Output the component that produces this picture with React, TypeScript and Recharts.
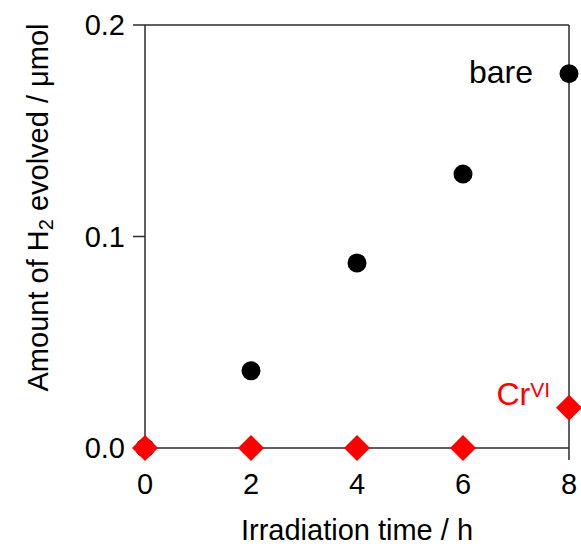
import { ScatterChart, Scatter, XAxis, YAxis, ReferenceLine, ReferenceDot } from "recharts";

const timeHours = [0, 2, 4, 6, 8];
const bareAmount = [0, 0.0365, 0.0875, 0.1295, 0.177];
const crAmount = [0, 0, 0, 0, 0.019];
const xTicks = [0, 2, 4, 6, 8];
const yTicks = [0, 0.1, 0.2];

const barePoints = timeHours.map((t, i) => ({ time: t, amount: bareAmount[i] }));
const crPoints = timeHours.map((t, i) => ({ time: t, amount: crAmount[i] }));

const FONT = "'Liberation Sans', Arial, Helvetica, sans-serif";
const AXIS = "#2b2b2b";

const Dot = (props: any) => {
  const { cx, cy } = props;
  if (cx == null || cy == null) return null;
  return <circle cx={cx} cy={cy} r={9.5} fill="#000" />;
};

const Diamond = (props: any) => {
  const { cx, cy } = props;
  if (cx == null || cy == null) return null;
  const s = 13;
  return (
    <polygon
      points={`${cx},${cy - s} ${cx + s},${cy} ${cx},${cy + s} ${cx - s},${cy}`}
      fill="#ff0000"
    />
  );
};

const YTitle = (props: any) => {
  const vb = props.viewBox || {};
  const x = 38;
  const y = (vb.y ?? 25) + (vb.height ?? 423) / 2 - 29;
  return (
    <text
      x={x}
      y={y}
      transform={`rotate(-90, ${x}, ${y})`}
      textAnchor="middle"
      dominantBaseline="central"
      fontFamily={FONT}
      fontSize={29}
      fill="#000"
    >
      Amount of H
      <tspan fontSize={20} dy={8}>2</tspan>
      <tspan dy={-8}> evolved / μmol</tspan>
    </text>
  );
};

const XTitle = (props: any) => {
  const vb = props.viewBox || {};
  const x = (vb.x ?? 145) + (vb.width ?? 424) / 2;
  return (
    <text x={x} y={540} textAnchor="middle" fontFamily={FONT} fontSize={29} fill="#000">
      Irradiation time / h
    </text>
  );
};

const BareTag = (props: any) => {
  const { cx, cy } = props;
  return (
    <text x={cx - 36} y={cy + 9} textAnchor="end" fontFamily={FONT} fontSize={32} fill="#000">
      bare
    </text>
  );
};

const CrTag = (props: any) => {
  const { cx, cy } = props;
  return (
    <text x={cx - 19} y={cy - 3} textAnchor="end" fontFamily={FONT} fontSize={32} fill="#ff0000">
      Cr
      <tspan fontSize={21} dy={-8}>VI</tspan>
    </text>
  );
};

export default function App() {
  return (
    <div style={{ position: "absolute", left: 0, top: 0, width: 581, height: 549, background: "#fff" }}>
      <ScatterChart width={581} height={549} margin={{ top: 25, right: 12, bottom: 41, left: 65 }}>
        <XAxis
          type="number"
          dataKey="time"
          domain={[0, 8]}
          ticks={xTicks}
          height={60}
          tickSize={12}
          tickMargin={13}
          stroke={AXIS}
          strokeWidth={1.5}
          tick={{ fill: "#000", fontSize: 29, fontFamily: FONT }}
          label={{ content: <XTitle /> }}
        />
        <YAxis
          type="number"
          dataKey="amount"
          domain={[0, 0.2]}
          ticks={yTicks}
          width={80}
          tickSize={12}
          tickMargin={8}
          stroke={AXIS}
          strokeWidth={1.5}
          tickFormatter={(v: number) => v.toFixed(1)}
          tick={{ fill: "#000", fontSize: 29, fontFamily: FONT }}
          label={{ content: <YTitle /> }}
        />
        <ReferenceLine y={0.2} stroke={AXIS} strokeWidth={1.5} />
        <ReferenceLine x={8} stroke={AXIS} strokeWidth={1.5} />
        <Scatter data={barePoints} shape={<Dot />} isAnimationActive={false} />
        <Scatter data={crPoints} shape={<Diamond />} isAnimationActive={false} />
        <ReferenceDot x={8} y={bareAmount[4]} r={0} shape={<BareTag />} />
        <ReferenceDot x={8} y={crAmount[4]} r={0} shape={<CrTag />} />
      </ScatterChart>
    </div>
  );
}
